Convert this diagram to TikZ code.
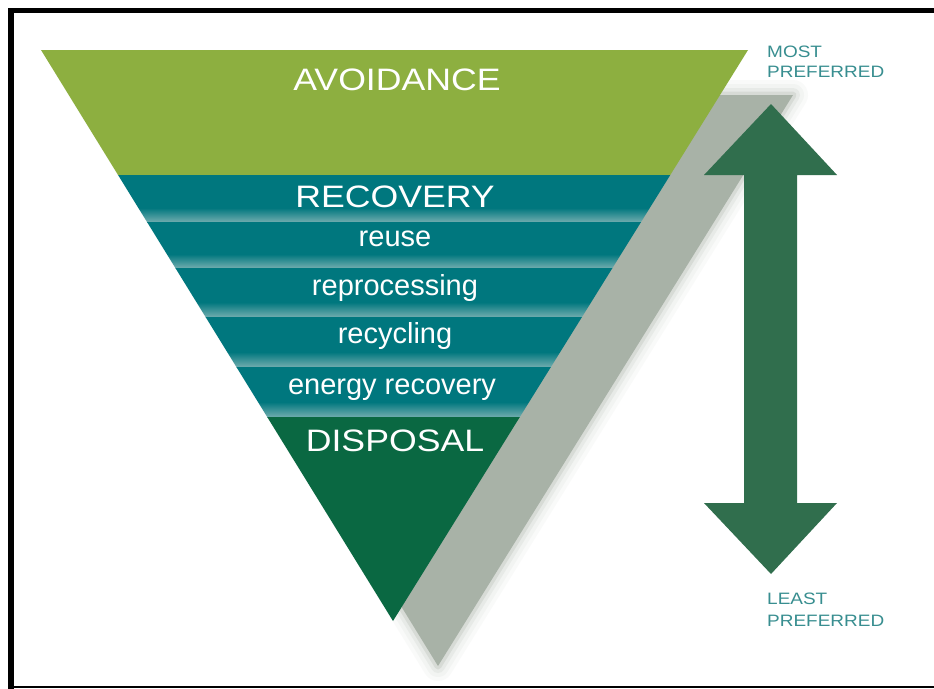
\documentclass[tikz,border=0pt]{standalone}
\usepackage{fontspec}
\usetikzlibrary{calc}
\setmainfont{Liberation Sans}
\newfontfamily\widefont[FakeStretch=1.15]{Liberation Sans}

\definecolor{avoidgreen}{RGB}{141,175,64}
\definecolor{bandteal}{RGB}{0,119,126}
\definecolor{bandlight}{RGB}{112,172,174}
\definecolor{disposalgreen}{RGB}{10,104,66}
\definecolor{arrowgreen}{RGB}{48,110,77}
\definecolor{shadowgrey}{RGB}{168,178,167}
\definecolor{labelteal}{RGB}{56,142,144}

\pgfdeclareverticalshading{bandfade}{100bp}{color(0bp)=(bandlight); color(25bp)=(bandlight); color(40bp)=(bandteal); color(100bp)=(bandteal)}

\tikzset{
  bigtext/.style={text=white, font=\widefont\fontsize{31}{31}\selectfont, anchor=base},
  smalltext/.style={text=white, font=\fontsize{29}{29}\selectfont, anchor=base},
  sidetext/.style={text=labelteal, font=\widefont\fontsize{16.5}{16.5}\selectfont, anchor=base west, inner sep=0pt},
}

\begin{document}
\begin{tikzpicture}[x=1pt, y=-1pt]
  \useasboundingbox (0,0) rectangle (934,688);
  \fill[white] (0,0) rectangle (934,688);

  % frame
  \draw[line width=5pt] (8,10.5) -- (940,10.5);
  \draw[line width=6pt] (11,8) -- (11,690);
  \draw[line width=2pt] (8,687) -- (940,687);

  % triangle corners
  \coordinate (tl) at (41,50);
  \coordinate (tr) at (748,50);
  \coordinate (apex) at (393,621);

  % soft shadow behind the triangle
  \foreach \w/\o in {30/0.06, 22/0.08, 14/0.14, 7/0.25}
    \draw[shadowgrey, line width=\w pt, line join=round, opacity=\o]
      ($(tl)+(45,45)$) -- ($(tr)+(45,45)$) -- ($(apex)+(45,45)$) -- cycle;
  \fill[shadowgrey] ($(tl)+(45,45)$) -- ($(tr)+(45,45)$) -- ($(apex)+(45,45)$) -- cycle;

  % bands
  \begin{scope}
    \clip (tl) -- (tr) -- (apex) -- cycle;
    \fill[avoidgreen] (0,45) rectangle (934,175);
    \foreach \ytop/\ybot in {175/222, 222/268, 268/317, 317/367, 367/417}
      \shade[shading=bandfade] (0,\ytop) rectangle (934,\ybot);
    \fill[disposalgreen] (0,417) rectangle (934,630);
  \end{scope}

  % labels
  \node[bigtext] (avoid) at (397,90) {AVOIDANCE};
  \node[bigtext] (recov) at (395,207) {RECOVERY};
  \node[smalltext] (reuse) at (395,246) {reuse};
  \node[smalltext] (reproc) at (395,295) {reprocessing};
  \node[smalltext] (recyc) at (395,343) {recycling};
  \node[smalltext] (energy) at (392,394) {energy recovery};
  \node[bigtext] (disp) at (395,451) {DISPOSAL};

  % preference arrow
  \fill[arrowgreen] (771,104) -- (837,175) -- (797,175) -- (797,503) -- (837,503)
    -- (771,574) -- (704,503) -- (744,503) -- (744,175) -- (704,175) -- cycle;

  \node[sidetext] (most) at (767,57) {MOST};
  \node[sidetext] (mostpref) at (767,77) {PREFERRED};
  \node[sidetext] (least) at (767,604) {LEAST};
  \node[sidetext] (leastpref) at (767,626) {PREFERRED};
\end{tikzpicture}
\end{document}
